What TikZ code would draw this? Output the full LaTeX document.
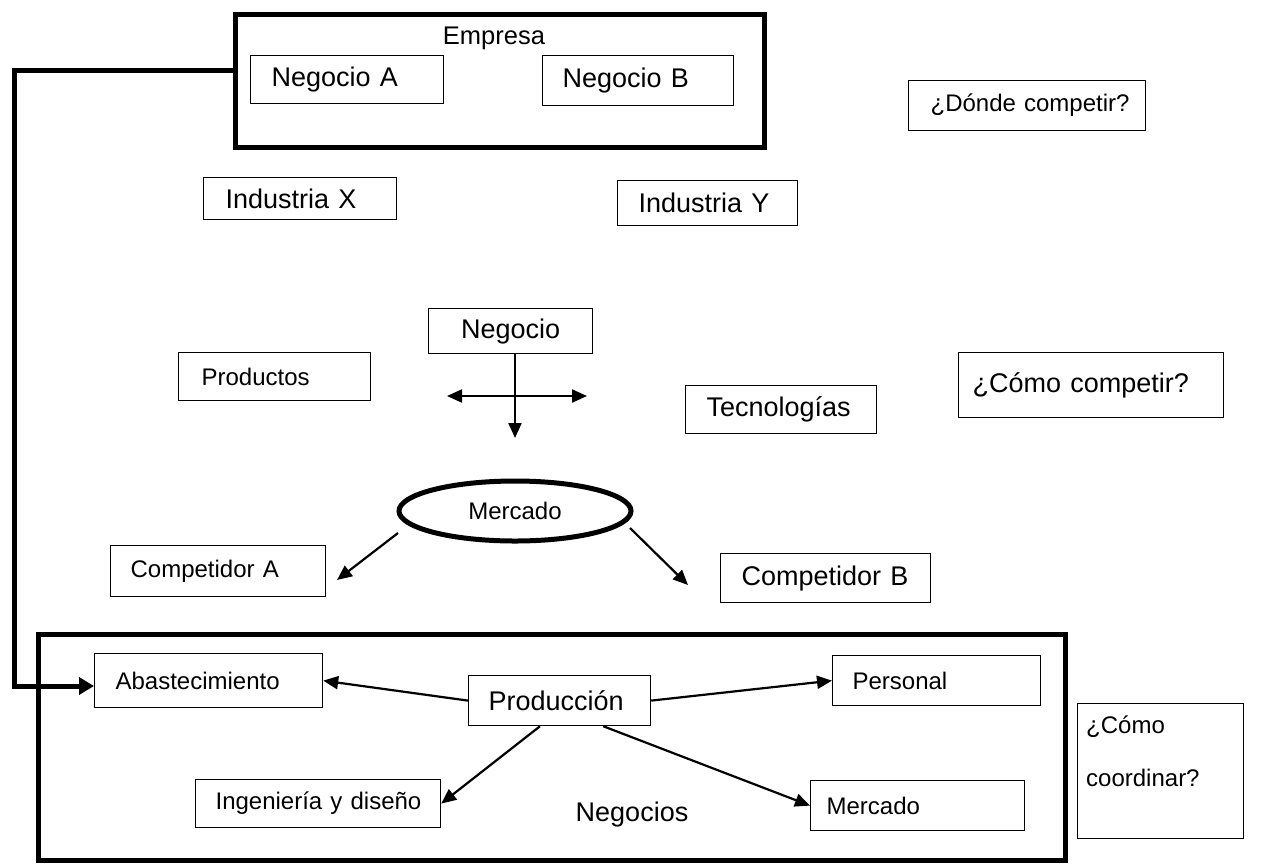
\documentclass[tikz,border=0pt]{standalone}
\usepackage{fontspec}
\setmainfont{Liberation Sans}
\usetikzlibrary{shapes.geometric,arrows.meta}
\newcommand{\bigtxt}{\fontsize{27}{32}\selectfont\spaceskip=0.34em\relax}
\newcommand{\smalltxt}{\fontsize{24}{29}\selectfont\spaceskip=0.34em\relax}
\newcommand{\midtxt}{\fontsize{25.5}{30}\selectfont}
\tikzset{
  frame/.style={draw, line width=5pt},
  bx/.style={draw, line width=1.2pt, inner sep=0pt, anchor=north west},
  arr/.style={-{Triangle[length=15pt,width=13pt]}, line width=2.2pt},
  link/.style={line width=5pt},
}
% box macro: name, x1, y1, w, h, pad, font, text
\newcommand{\bbox}[8]{%
  \node[bx, minimum width=#4, minimum height=#5, inner xsep=#6] (#1) at (#2,#3) {#7\makebox[\dimexpr #4pt-#6pt-#6pt\relax][l]{#8}};}
\begin{document}
\begin{tikzpicture}[x=1pt,y=-1pt]
\useasboundingbox (0,0) rectangle (1279,863);
% Empresa frame
\node[frame, minimum width=529, minimum height=133, inner sep=0, anchor=north west] (empresa) at (233,12) {};
\node[font=\midtxt] (empresat) at (494,38) {Empresa};
\bbox{nega}{250}{55}{193}{48}{21}{\bigtxt}{Negocio A}
\bbox{negb}{542}{55}{191}{50}{20}{\bigtxt}{Negocio B}
\bbox{donde}{908}{80}{237}{50}{22}{\smalltxt}{¿Dónde competir?}
\bbox{indx}{203}{177}{193}{42}{22}{\bigtxt}{Industria X}
\bbox{indy}{617}{180}{180}{45}{21}{\bigtxt}{Industria Y}
\node[bx, minimum width=164, minimum height=45, inner xsep=0pt, font=\bigtxt] (negocio) at (428,308) {\raisebox{-6pt}{Negocio}};
\bbox{productos}{178}{352}{192}{48}{23}{\smalltxt}{Productos}
\bbox{tecno}{685}{385}{191}{48}{21}{\bigtxt}{Tecnologías}
\bbox{comocomp}{958}{352}{265}{65}{14}{\bigtxt}{¿Cómo competir?}
\node[draw, ellipse, line width=5pt, minimum width=232, minimum height=60, inner sep=0, font=\smalltxt] (mercado) at (515,511) {Mercado};
\bbox{compa}{110}{545}{215}{51}{20}{\smalltxt}{Competidor A}
\bbox{compb}{720}{553}{210}{49}{21}{\bigtxt}{Competidor B}
% Negocios frame
\node[frame, minimum width=1027, minimum height=226, inner sep=0, anchor=north west] (negocios) at (36,632) {};
\node[font=\bigtxt] (negociost) at (632,815) {Negocios};
\bbox{abast}{94}{653}{228}{54}{21}{\smalltxt}{Abastecimiento}
\bbox{prod}{468}{675}{182}{50}{20}{\bigtxt}{Producción}
\bbox{personal}{832}{655}{208}{50}{20}{\smalltxt}{Personal}
\bbox{inge}{195}{779}{245}{48}{20}{\smalltxt}{Ingeniería y diseño}
\bbox{mercb}{810}{780}{214}{50}{16}{\smalltxt}{Mercado}
\node[bx, minimum width=166, minimum height=135] (coord) at (1077,703) {};
\node[font=\smalltxt, anchor=north west, align=left, inner sep=0pt] (coordt) at (1086,716) {¿Cómo\\[24pt]coordinar?};
% cross under Negocio
\coordinate (hl) at (447,396);
\coordinate (hr) at (587,396);
\coordinate (vd) at (515,438);
\draw[arr] (vd |- negocio.south) -- (vd);
\draw[arr, {Triangle[length=15pt,width=13pt]}-{Triangle[length=15pt,width=13pt]}] (hl) -- (hr);
% Mercado arrows
\coordinate (ms1) at (398,533);
\coordinate (ms2) at (630,528);
\coordinate (ma) at (337,580);
\coordinate (mb) at (688,585);
\draw[arr] (ms1) -- (ma);
\draw[arr] (ms2) -- (mb);
% link Empresa -> Abastecimiento
\draw[link, -{Triangle[length=15pt,width=17pt]}] (empresa.west |- 0,70) -| (14,686) -- (abast.west |- 0,686);
% Produccion arrows
\draw[arr] (prod.west) -- (abast.east);
\draw[arr] (prod.east) -- (personal.west);
\draw[arr] (prod.south west) ++(72,0) -- (inge.east);
\draw[arr] (prod.south east) ++(-48,0) -- (mercb.west);
\end{tikzpicture}
\end{document}
